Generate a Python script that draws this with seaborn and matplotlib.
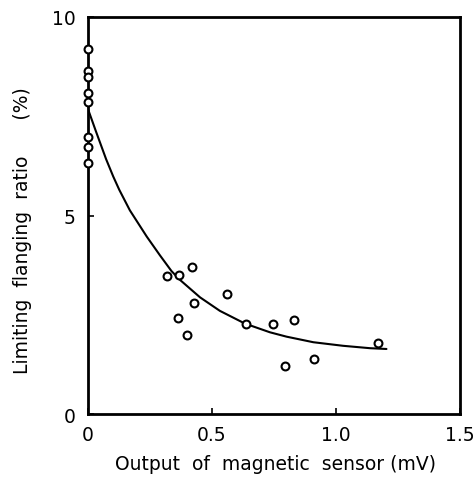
import matplotlib
matplotlib.use("Agg")
import matplotlib.pyplot as plt
import seaborn as sns
import pandas as pd

# Measured limiting flanging ratio against magnetic sensor output
sensor_mv = [0.0, 0.0, 0.0, 0.0, 0.0, 0.0, 0.0, 0.0,
             0.320, 0.368, 0.421, 0.362, 0.398, 0.427, 0.562,
             0.637, 0.746, 0.833, 0.794, 0.910, 1.171]
flanging_ratio = [9.19, 8.63, 8.48, 8.08, 7.85, 6.97, 6.72, 6.32,
                  3.48, 3.50, 3.70, 2.41, 2.00, 2.79, 3.03,
                  2.26, 2.27, 2.38, 1.22, 1.40, 1.78]

# Trend curve through the data
curve_mv = [0.0, 0.032, 0.073, 0.102, 0.126, 0.169, 0.237, 0.290,
            0.337, 0.371, 0.452, 0.532, 0.633, 0.734, 0.801, 0.909,
            1.029, 1.137, 1.204]
curve_ratio = [7.68, 7.12, 6.42, 5.98, 5.65, 5.13, 4.47, 4.00,
               3.60, 3.38, 2.94, 2.60, 2.28, 2.06, 1.95, 1.81,
               1.72, 1.66, 1.64]

x_ticks = [0, 0.5, 1.0, 1.5]
x_tick_labels = ["0", "0.5", "1.0", "1.5"]
y_ticks = [0, 5, 10]
y_tick_labels = ["0", "5", "10"]

sns.set_theme(style="ticks")
plt.rcParams["font.family"] = ["DejaVu Sans"]
plt.rcParams["text.color"] = "black"

points = pd.DataFrame({"x": sensor_mv, "y": flanging_ratio})
curve = pd.DataFrame({"x": curve_mv, "y": curve_ratio})

fig = plt.figure(figsize=(4.77, 4.81), dpi=100)
ax = fig.add_axes([0.1845, 0.137, 0.7795, 0.8256])

sns.lineplot(data=curve, x="x", y="y", ax=ax, color="black", linewidth=1.5,
             sort=False, estimator=None)
sns.scatterplot(data=points, x="x", y="y", ax=ax, marker="o", s=32,
                facecolor="white", edgecolor="black", linewidth=1.5,
                zorder=3, clip_on=False)

ax.set_xlim(0, 1.5)
ax.set_ylim(0, 10)
ax.set_xticks(x_ticks)
ax.set_xticklabels(x_tick_labels)
ax.set_yticks(y_ticks)
ax.set_yticklabels(y_tick_labels)
ax.tick_params(direction="in", length=4, width=1.2, labelsize=13.5,
               colors="black", labelcolor="black")
ax.tick_params(axis="x", pad=8)
ax.tick_params(axis="y", pad=9)

for side in ["left", "right", "top", "bottom"]:
    ax.spines[side].set_visible(True)
    ax.spines[side].set_linewidth(2)
    ax.spines[side].set_color("black")

ax.set_xlabel("")
ax.set_ylabel("")
fig.text(276 / 477, 1 - 464 / 481, "Output  of  magnetic  sensor (mV)",
         fontsize=13.5, ha="center", va="center", color="black")
fig.text(23 / 477, 1 - 231 / 481, "Limiting  flanging  ratio      (%)",
         fontsize=13.5, ha="center", va="center", rotation=90, color="black")

fig.savefig("out.png", dpi=100)
